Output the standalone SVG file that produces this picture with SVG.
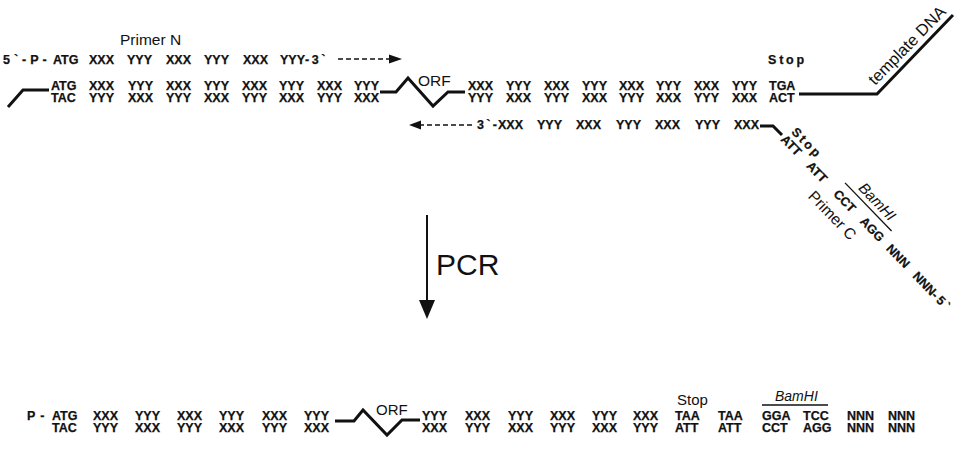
<svg xmlns="http://www.w3.org/2000/svg" width="965" height="451" viewBox="0 0 965 451">
<style>
.c{font-family:"Liberation Sans",Arial,sans-serif;font-weight:bold;font-size:12.5px;fill:#111;stroke:#111;stroke-width:0.25}
.r{font-family:"Liberation Sans",Arial,sans-serif;fill:#111}
.i{font-family:"Liberation Sans",Arial,sans-serif;font-style:italic;fill:#111}
.s{fill:none;stroke:#111;stroke-width:3;stroke-linejoin:miter}
.d{fill:none;stroke:#111;stroke-width:1.5;stroke-dasharray:5,3}
.t{fill:none;stroke:#111;stroke-width:1.3}
</style>
<rect width="965" height="451" fill="#fff"/>
<g id="connectors">
  <polyline class="s" points="8,107 23,90 49,90"/>
  <polyline class="s" points="380,92 396,92 408,78 433,106 448,92 465,92"/>
  <polyline class="s" points="799,94 877,94 953,15"/>
  <polyline class="s" points="760,126 773,126 782,135"/>
  <line class="d" x1="338" y1="59" x2="391" y2="59"/>
  <polygon points="389,54.5 402,59 389,63.5" fill="#111"/>
  <line class="d" x1="472" y1="125" x2="420" y2="125"/>
  <polygon points="409,125 421,120.5 421,129.5" fill="#111"/>
  <line x1="427" y1="215" x2="427" y2="302" stroke="#111" stroke-width="2"/>
  <polygon points="419,300 435,300 427,319" fill="#111"/>
  <polyline class="s" points="335,421 354,421 363,410 387,435 402,420 420,420"/>
</g>
<g id="primer-n">
  <text class="r" x="120" y="45" font-size="15.5">Primer N</text>
  <text class="c" y="64"><tspan x="3" letter-spacing="4">5`-P-</tspan><tspan x="53">ATG </tspan><tspan x="89">XXX </tspan><tspan x="127">YYY </tspan><tspan x="166">XXX </tspan><tspan x="204">YYY </tspan><tspan x="243">XXX </tspan><tspan x="280">YYY</tspan><tspan letter-spacing="2.5">-3`</tspan></text>
</g>
<g id="template-left">
  <text class="c" y="89.5"><tspan x="51">ATG </tspan><tspan x="89">XXX </tspan><tspan x="128">YYY </tspan><tspan x="166">XXX </tspan><tspan x="204">YYY </tspan><tspan x="242">XXX </tspan><tspan x="279">YYY </tspan><tspan x="317">XXX </tspan><tspan x="354">YYY</tspan></text>
  <text class="c" y="101.5"><tspan x="51">TAC </tspan><tspan x="89">YYY </tspan><tspan x="128">XXX </tspan><tspan x="166">YYY </tspan><tspan x="204">XXX </tspan><tspan x="242">YYY </tspan><tspan x="279">XXX </tspan><tspan x="317">YYY </tspan><tspan x="354">XXX</tspan></text>
</g>
<g id="orf-top">
  <text class="r" x="418" y="86" font-size="15.5">ORF</text>
</g>
<g id="template-right">
  <text class="c" x="768" y="64" letter-spacing="2.8">Stop</text>
  <text class="c" y="89.5"><tspan x="468">XXX </tspan><tspan x="506">YYY </tspan><tspan x="544">XXX </tspan><tspan x="582">YYY </tspan><tspan x="619">XXX </tspan><tspan x="656">YYY </tspan><tspan x="694">XXX </tspan><tspan x="732">YYY </tspan><tspan x="769">TGA</tspan></text>
  <text class="c" y="101.5"><tspan x="468">YYY </tspan><tspan x="506">XXX </tspan><tspan x="544">YYY </tspan><tspan x="582">XXX </tspan><tspan x="619">YYY </tspan><tspan x="656">XXX </tspan><tspan x="694">YYY </tspan><tspan x="732">XXX </tspan><tspan x="769">ACT</tspan></text>
  <text class="r" font-size="16.5" transform="translate(875,86) rotate(-45.5)">template DNA</text>
</g>
<g id="primer-c">
  <text class="c" y="129"><tspan x="477" letter-spacing="2.3">3`-</tspan><tspan x="498">XXX </tspan><tspan x="537">YYY </tspan><tspan x="576">XXX </tspan><tspan x="616">YYY </tspan><tspan x="655">XXX </tspan><tspan x="695">YYY </tspan><tspan x="734">XXX</tspan></text>
  <g transform="translate(780,140) rotate(46)">
    <text class="c" x="2" y="-13" letter-spacing="2.5">Stop</text>
    <text class="c" y="0"><tspan x="0">ATT </tspan><tspan x="37">ATT </tspan><tspan x="76">CCT </tspan><tspan x="114">AGG </tspan><tspan x="152">NNN </tspan><tspan x="190">NNN</tspan><tspan letter-spacing="2.5">-5`</tspan></text>
    <text class="i" x="89" y="-22" font-size="15">BamHI</text>
    <line class="t" x1="76" y1="-17" x2="143" y2="-17"/>
    <text class="r" x="60" y="20" font-size="15.5">Primer C</text>
  </g>
</g>
<g id="pcr">
  <text class="r" x="436" y="275" font-size="30">PCR</text>
</g>
<g id="product-left">
  <text class="c" y="419.5"><tspan x="27" letter-spacing="5">P-</tspan><tspan x="52">ATG </tspan><tspan x="93">XXX </tspan><tspan x="135">YYY </tspan><tspan x="177">XXX </tspan><tspan x="219">YYY </tspan><tspan x="262">XXX </tspan><tspan x="304">YYY</tspan></text>
  <text class="c" y="431.5"><tspan x="52">TAC </tspan><tspan x="93">YYY </tspan><tspan x="135">XXX </tspan><tspan x="177">YYY </tspan><tspan x="219">XXX </tspan><tspan x="262">YYY </tspan><tspan x="304">XXX</tspan></text>
</g>
<g id="orf-bottom">
  <text class="r" x="376" y="415" font-size="15">ORF</text>
</g>
<g id="product-right">
  <text class="r" x="677" y="404.5" font-size="15">Stop</text>
  <text class="i" x="775" y="401" font-size="14">BamHI</text>
  <line class="t" x1="762" y1="405" x2="828" y2="405"/>
  <text class="c" y="419.5"><tspan x="422">YYY </tspan><tspan x="465">XXX </tspan><tspan x="508">YYY </tspan><tspan x="550">XXX </tspan><tspan x="592">YYY </tspan><tspan x="633">XXX </tspan><tspan x="675">TAA </tspan><tspan x="718">TAA </tspan><tspan x="762">GGA </tspan><tspan x="803">TCC </tspan><tspan x="847">NNN </tspan><tspan x="888">NNN</tspan></text>
  <text class="c" y="431.5"><tspan x="422">XXX </tspan><tspan x="465">YYY </tspan><tspan x="508">XXX </tspan><tspan x="550">YYY </tspan><tspan x="592">XXX </tspan><tspan x="633">YYY </tspan><tspan x="675">ATT </tspan><tspan x="718">ATT </tspan><tspan x="762">CCT </tspan><tspan x="803">AGG </tspan><tspan x="847">NNN </tspan><tspan x="888">NNN</tspan></text>
</g>
</svg>
